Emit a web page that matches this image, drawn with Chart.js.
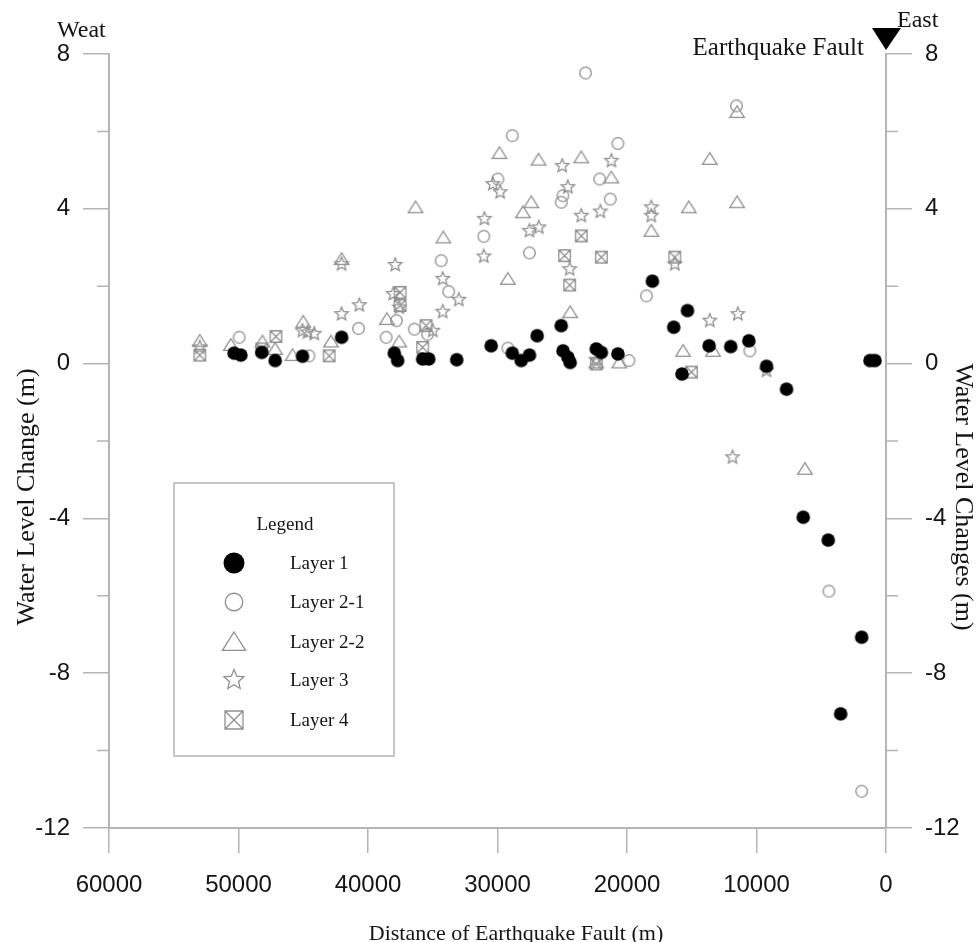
<!DOCTYPE html>
<html>
<head>
<meta charset="utf-8">
<script src="https://cdn.jsdelivr.net/npm/chart.js@4.4.1/dist/chart.umd.min.js"></script>
<style>
  html, body { margin: 0; padding: 0; background: #fff; overflow: hidden; }
  canvas { display: block; }
</style>
</head>
<body>
<canvas id="wl" width="976" height="942"></canvas>
<script>
// distance from fault (m) and water level change (m) per aquifer layer
const distL1 = [50340, 49820, 48200, 47170, 45060, 42040, 37970, 37710, 35780, 35310, 33150, 30490, 28860, 28170, 27530, 26940, 25080, 24940, 24560, 24390, 22370, 21980, 20700, 18040, 16390, 15330, 15750, 13660, 11990, 10590, 9225, 7680, 6390, 4460, 3500, 1880, 1240, 850];
const chgL1  = [0.27, 0.22, 0.29, 0.08, 0.19, 0.68, 0.27, 0.08, 0.12, 0.12, 0.10, 0.46, 0.27, 0.08, 0.22, 0.72, 0.98, 0.33, 0.16, 0.03, 0.38, 0.29, 0.25, 2.13, 0.94, 1.37, -0.27, 0.46, 0.44, 0.59, -0.07, -0.66, -3.97, -4.56, -9.05, -7.07, 0.08, 0.08];

const distL21 = [49950, 44560, 40730, 38600, 37800, 36420, 35400, 34350, 33770, 31060, 29970, 29200, 28860, 27530, 25080, 24950, 23200, 22110, 21290, 20700, 19850, 18500, 11545, 10520, 4410, 1880];
const chgL21  = [0.68, 0.20, 0.91, 0.68, 1.11, 0.89, 0.76, 2.66, 1.86, 3.29, 4.77, 0.40, 5.89, 2.86, 4.17, 4.34, 7.51, 4.77, 4.25, 5.69, 0.08, 1.75, 6.66, 0.33, -5.88, -11.05];

const distL22 = [52990, 50590, 48150, 47170, 45830, 45000, 42860, 42040, 38540, 37590, 36330, 34180, 29850, 29200, 28040, 27390, 26830, 24390, 23530, 22370, 21210, 20600, 18120, 15670, 15230, 13610, 13350, 11500, 11500, 6260];
const chgL22  = [0.59, 0.48, 0.57, 0.38, 0.22, 1.08, 0.57, 2.70, 1.15, 0.57, 4.04, 3.26, 5.44, 2.19, 3.91, 4.17, 5.27, 1.33, 5.33, 0.03, 4.81, 0.03, 3.43, 0.33, 4.04, 5.29, 0.33, 6.50, 4.17, -2.72];

const distL3 = [52990, 45060, 44670, 44150, 42040, 42040, 40670, 37900, 38050, 37580, 35000, 34230, 34230, 32990, 31060, 31010, 30360, 29790, 27530, 26810, 25000, 24570, 24430, 23530, 22370, 22060, 21200, 18120, 18120, 16310, 13610, 11440, 11850, 9225];
const chgL3  = [0.42, 0.85, 0.81, 0.77, 2.57, 1.28, 1.51, 2.55, 1.80, 1.45, 0.85, 2.19, 1.34, 1.65, 2.77, 3.74, 4.64, 4.43, 3.43, 3.52, 5.11, 4.56, 2.44, 3.82, 0.10, 3.93, 5.24, 4.04, 3.82, 2.57, 1.11, 1.28, -2.42, -0.18];

const distL4 = [52990, 48200, 47110, 43000, 37520, 37520, 35780, 35520, 24820, 24430, 23530, 22370, 21980, 16310, 15020];
const chgL4  = [0.22, 0.38, 0.70, 0.20, 1.84, 1.50, 0.42, 0.98, 2.79, 2.03, 3.30, -0.01, 2.75, 2.75, -0.22];

const layerNames = ['Layer 1', 'Layer 2-1', 'Layer 2-2', 'Layer 3', 'Layer 4'];
const layerShapes = ['dot', 'ring', 'tri', 'star', 'box'];
const xTicks = [60000, 50000, 40000, 30000, 20000, 10000, 0];
const yMinor = [6, 2, -2, -6, -10];

const GRAY = '#8f8f8f';
const AXIS = '#b4b4b4';
const INK = '#151515';
const SERIF = "'Liberation Serif', 'Times New Roman', serif";
const SANS = "'Liberation Sans', Arial, sans-serif";

function drawMarker(ctx, kind, cx, cy, r) {
  ctx.save();
  ctx.lineWidth = 1.3;
  ctx.strokeStyle = GRAY;
  ctx.fillStyle = '#000';
  ctx.beginPath();
  if (kind === 'dot') {
    ctx.arc(cx, cy, r, 0, Math.PI * 2);
    ctx.fill();
  } else if (kind === 'ring') {
    ctx.arc(cx, cy, r * 0.92, 0, Math.PI * 2);
    ctx.stroke();
  } else if (kind === 'tri') {
    ctx.moveTo(cx, cy - r * 0.95);
    ctx.lineTo(cx + r * 1.1, cy + r * 0.8);
    ctx.lineTo(cx - r * 1.1, cy + r * 0.8);
    ctx.closePath();
    ctx.stroke();
  } else if (kind === 'star') {
    for (let i = 0; i < 10; i++) {
      const a = -Math.PI / 2 + i * Math.PI / 5;
      const rr = i % 2 === 0 ? r : r * 0.45;
      const px = cx + rr * Math.cos(a), py = cy + rr * Math.sin(a);
      if (i === 0) ctx.moveTo(px, py); else ctx.lineTo(px, py);
    }
    ctx.closePath();
    ctx.stroke();
  } else if (kind === 'box') {
    const h = r * 0.9;
    ctx.rect(cx - h, cy - h, 2 * h, 2 * h);
    ctx.moveTo(cx - h, cy - h); ctx.lineTo(cx + h, cy + h);
    ctx.moveTo(cx + h, cy - h); ctx.lineTo(cx - h, cy + h);
    ctx.stroke();
  }
  ctx.restore();
}

function markerImage(kind, r) {
  const c = document.createElement('canvas');
  const s = Math.ceil(r * 2 + 4);
  c.width = s; c.height = s;
  drawMarker(c.getContext('2d'), kind, s / 2, s / 2, r);
  return c;
}

const pairs = (xs, ys) => xs.map((x, i) => ({ x: x, y: ys[i] }));
const series = [pairs(distL1, chgL1), pairs(distL21, chgL21), pairs(distL22, chgL22), pairs(distL3, chgL3), pairs(distL4, chgL4)];
const plotRadius = [6.8, 6.3, 6.6, 7, 6.4];

const datasets = series.map((pts, i) => ({
  label: layerNames[i],
  data: pts,
  pointStyle: markerImage(layerShapes[i], plotRadius[i]),
  pointRadius: plotRadius[i],
  showLine: false
}));

// minor ticks on both value axes
const minorTicks = {
  id: 'minorTicks',
  afterDraw(chart) {
    const { ctx, scales } = chart;
    ctx.save();
    ctx.strokeStyle = AXIS;
    ctx.lineWidth = 1.5;
    ctx.beginPath();
    yMinor.forEach(v => {
      const py = scales.y.getPixelForValue(v);
      ctx.moveTo(scales.y.right - 12, py); ctx.lineTo(scales.y.right, py);
      ctx.moveTo(scales.y2.left, py); ctx.lineTo(scales.y2.left + 12, py);
    });
    ctx.stroke();
    ctx.restore();
  }
};

// titles, direction notes, fault marker and the legend box
const annotations = {
  id: 'annotations',
  afterDraw(chart) {
    const { ctx, scales } = chart;
    ctx.save();
    ctx.fillStyle = INK;

    ctx.font = '24px ' + SERIF;
    ctx.textBaseline = 'alphabetic';
    ctx.textAlign = 'left';
    ctx.fillText('Weat', 57, 37);
    ctx.fillText('East', 897, 27);
    ctx.font = '25px ' + SERIF;
    ctx.textAlign = 'right';
    ctx.fillText('Earthquake Fault', 864, 55);

    const fx = scales.x.getPixelForValue(0);
    ctx.fillStyle = '#000';
    ctx.beginPath();
    ctx.moveTo(fx - 14, 28); ctx.lineTo(fx + 15, 28); ctx.lineTo(fx, 50);
    ctx.closePath();
    ctx.fill();

    ctx.fillStyle = INK;
    ctx.font = '22px ' + SERIF;
    ctx.textAlign = 'center';
    ctx.fillText('Distance of Earthquake Fault (m)', 516, 940);

    ctx.font = '26px ' + SERIF;
    ctx.textBaseline = 'middle';
    ctx.save();
    ctx.translate(27, 497);
    ctx.rotate(-Math.PI / 2);
    ctx.fillText('Water Level Change (m)', 0, 0);
    ctx.restore();
    ctx.save();
    ctx.translate(963, 497);
    ctx.rotate(Math.PI / 2);
    ctx.fillText('Water Level Changes (m)', 0, 0);
    ctx.restore();

    // legend
    ctx.strokeStyle = AXIS;
    ctx.lineWidth = 1.5;
    ctx.strokeRect(174, 483, 220, 273);
    ctx.font = '19px ' + SERIF;
    ctx.textAlign = 'center';
    ctx.fillText('Legend', 285, 525);
    const rowY = [563, 602, 642, 680, 720];
    const legR = [10.5, 9.5, 10.5, 10.5, 10];
    ctx.textAlign = 'left';
    layerNames.forEach((name, i) => {
      drawMarker(ctx, layerShapes[i], 234, rowY[i], legR[i]);
      ctx.fillStyle = INK;
      ctx.fillText(name, 290, rowY[i] + 1);
    });
    ctx.restore();
  }
};

const tickFont = { family: SANS, size: 24 };

new Chart(document.getElementById('wl'), {
  type: 'scatter',
  data: { datasets: datasets },
  options: {
    responsive: false,
    animation: false,
    devicePixelRatio: 1,
    layout: { padding: { top: 54, left: 0, right: 0, bottom: 0 } },
    plugins: { legend: { display: false }, tooltip: { enabled: false } },
    scales: {
      x: {
        type: 'linear',
        reverse: true,
        min: 0,
        max: 60000,
        afterBuildTicks: s => { s.ticks = xTicks.map(v => ({ value: v })); },
        ticks: { font: tickFont, color: INK, padding: 18, maxRotation: 0, callback: v => String(v) },
        grid: { drawOnChartArea: false, tickLength: 25, color: AXIS, lineWidth: 1.5 },
        border: { color: AXIS, width: 2 },
        afterFit: s => { s.height = 114; }
      },
      y: {
        position: 'left',
        min: -12,
        max: 8,
        ticks: { stepSize: 4, font: tickFont, color: INK, padding: 13 },
        grid: { drawOnChartArea: false, tickLength: 26, color: AXIS, lineWidth: 1.5 },
        border: { color: AXIS, width: 2 },
        afterFit: s => { s.width = 109; }
      },
      y2: {
        position: 'right',
        min: -12,
        max: 8,
        ticks: { stepSize: 4, font: tickFont, color: INK, padding: 13 },
        grid: { drawOnChartArea: false, tickLength: 26, color: AXIS, lineWidth: 1.5 },
        border: { color: AXIS, width: 2 },
        afterFit: s => { s.width = 90; }
      }
    }
  },
  plugins: [minorTicks, annotations]
});
</script>
</body>
</html>
